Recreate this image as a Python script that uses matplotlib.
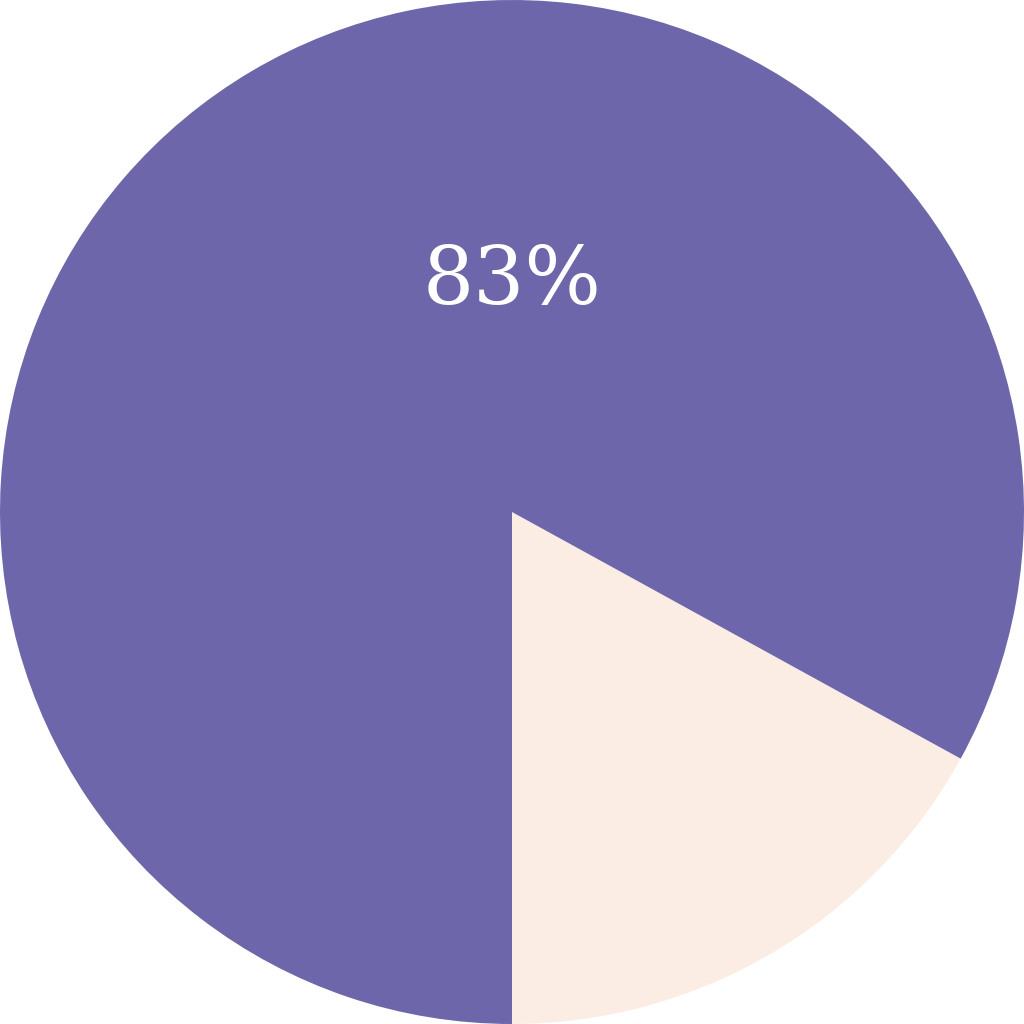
import matplotlib
matplotlib.use("Agg")
import matplotlib.pyplot as plt

labels = ["Other", "Main"]
shares = [17, 83]
colors = ["#fcede4", "#6e66aa"]

fig = plt.figure(figsize=(10.24, 10.24), dpi=100)
ax = fig.add_axes([0, 0, 1, 1])

wedges, _ = ax.pie(shares, colors=colors, startangle=-90, counterclock=True,
                   radius=1.0, wedgeprops={"linewidth": 0})

# label only the large slice, placed near the top
ax.text(0.0, 0.45, "%d%%" % shares[1], ha="center", va="center",
        color="white", fontsize=58, family=["DejaVu Serif"])

ax.set_xlim(-1, 1)
ax.set_ylim(-1, 1)
ax.set_aspect("equal")
ax.axis("off")

fig.savefig("out.png", dpi=100, facecolor="white")
